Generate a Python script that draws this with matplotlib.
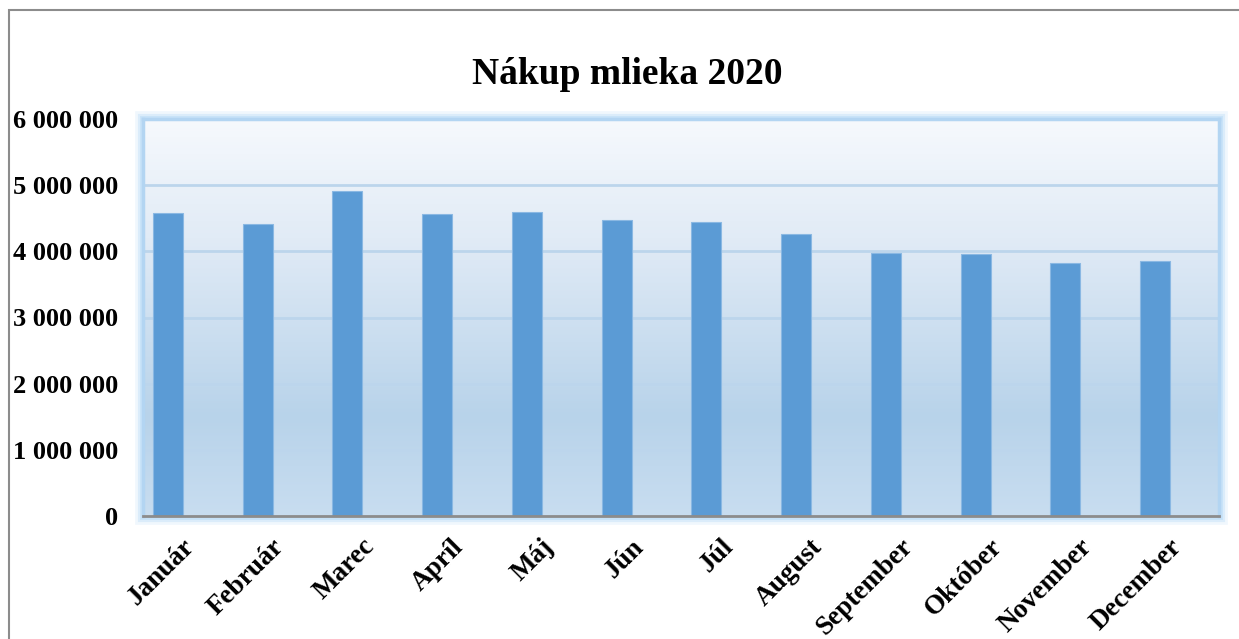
import numpy as np
import matplotlib
matplotlib.use('Agg')
import matplotlib.pyplot as plt
from matplotlib.patches import Rectangle
from matplotlib.ticker import FuncFormatter
from matplotlib.transforms import ScaledTranslation, blended_transform_factory
from matplotlib.colors import LinearSegmentedColormap

# monthly milk purchase 2020
months = ['Január', 'Február', 'Marec', 'Apríl', 'Máj', 'Jún', 'Júl',
          'August', 'September', 'Október', 'November', 'December']
values = [4575000, 4410000, 4905000, 4560000, 4600000, 4480000, 4440000,
          4265000, 3980000, 3965000, 3820000, 3860000]
yticks = [0, 1000000, 2000000, 3000000, 4000000, 5000000, 6000000]
title = 'Nákup mlieka 2020'

plt.rcParams['font.family'] = ['Liberation Serif', 'DejaVu Serif']
plt.rcParams['font.weight'] = 'bold'

W, H = 1239, 639
fig = plt.figure(figsize=(W / 100, H / 100), dpi=100)
fig.patch.set_facecolor('white')

# outer chart frame (only left & top visible in the crop)
fig.add_artist(Rectangle((9 / W, -0.1), 1.2, 1 - 10 / H + 0.1, transform=fig.transFigure,
                         fill=False, edgecolor='#8c8c8c', lw=1.5))

left, right, top, bottom = 143, 1219, 119, 516
ax = fig.add_axes([left / W, (H - bottom) / H, (right - left) / W, (bottom - top) / H])
ax.set_facecolor('none')

# gradient plot area
grad = LinearSegmentedColormap.from_list('g', [(0.0, '#c8ddf0'), (0.25, '#b8d3ea'),
                                               (0.7, '#e1ebf6'), (1.0, '#f6f9fd')])
ax.imshow(np.linspace(0, 1, 256).reshape(-1, 1), cmap=grad, origin='lower',
          extent=(0, 1, 0, 1), transform=ax.transAxes, aspect='auto', zorder=0)

x = np.arange(len(months))
ax.bar(x, values, width=0.335, color='#5b9bd5', edgecolor='#8ab8e3', lw=0.8, zorder=3)

ax.set_xlim(-0.278, 11.713)
ax.set_ylim(0, 6000000)
ax.set_yticks(yticks)
ax.yaxis.set_major_formatter(FuncFormatter(lambda v, p: f'{v:,.0f}'.replace(',', ' ')))
for yv in yticks[1:-1]:
    ax.axhline(yv, color='#bcd5ec', lw=2, zorder=1)

# category labels, rotated, end of text right of the tick
ax.set_xticks(x)
ax.set_xticklabels([])
lab_tr = blended_transform_factory(ax.transData, ax.transAxes) + \
    ScaledTranslation(0.23, -0.27, fig.dpi_scale_trans)
for xi, m in zip(x, months):
    ax.text(xi, 0, m, transform=lab_tr, rotation=45, rotation_mode='anchor',
            ha='right', va='center', fontsize=19.5, fontweight='bold')

ax.tick_params(axis='both', length=0, labelsize=19)
ax.tick_params(axis='y', pad=18)

for s in ['left', 'right', 'top']:
    ax.spines[s].set_color('#b3d5f2')
    ax.spines[s].set_linewidth(2.5)
ax.spines['bottom'].set_color('#8c8c8c')
ax.spines['bottom'].set_linewidth(2)
ax.spines['bottom'].set_zorder(5)

# soft glow around the plot area
for i, lw in enumerate([12, 8, 5]):
    ax.add_patch(Rectangle((0, 0), 1, 1, transform=ax.transAxes, fill=False,
                           edgecolor='#b5daf7', alpha=0.2 + 0.15 * i, lw=lw,
                           clip_on=False, zorder=-1))

fig.text(0.506, 0.884, title, ha='center', va='center', fontsize=27, fontweight='bold')

plt.savefig('out.png', dpi=100)
